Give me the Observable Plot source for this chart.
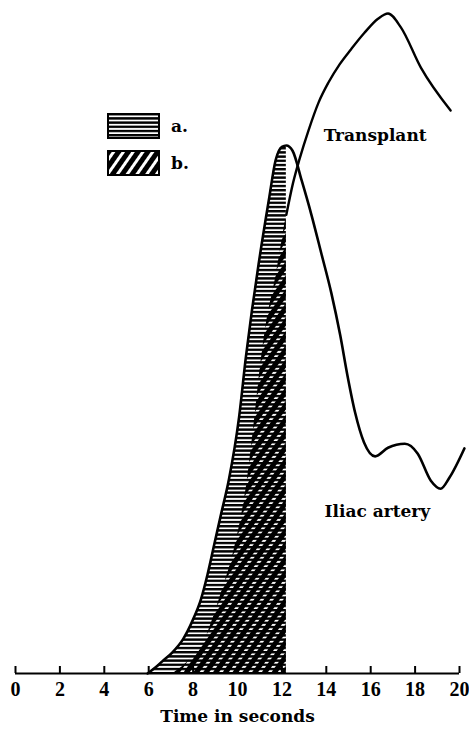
<!DOCTYPE html>
<html>
<head>
<meta charset="utf-8">
<script src="https://cdn.jsdelivr.net/npm/d3@7"></script>
<script src="https://cdn.jsdelivr.net/npm/@observablehq/plot@0.6"></script>
<style>
  html, body { margin: 0; padding: 0; background: #fff; }
  #wrap { position: relative; width: 469px; height: 731px; overflow: hidden; }
  .legend { position: absolute; left: 107px; top: 113px; font-family: "DejaVu Serif", serif; font-weight: bold; font-size: 17px; color: #000; }
  .item { display: flex; align-items: center; height: 26px; margin-bottom: 11px; }
  .item svg { display: block; margin-right: 11px; }
</style>
</head>
<body>
<svg width="0" height="0" style="position:absolute">
  <defs>
    <pattern id="hatchA" patternUnits="userSpaceOnUse" width="8" height="4.2">
      <rect width="8" height="4.2" fill="#fff"/>
      <rect width="8" height="2.4" fill="#000"/>
    </pattern>
    <pattern id="hatchB" patternUnits="userSpaceOnUse" width="8" height="8" patternTransform="rotate(35)">
      <rect width="5" height="8" fill="#000"/>
    </pattern>
  </defs>
</svg>
<div id="wrap">
  <div id="chart"></div>
  <div class="legend">
    <div class="item">
      <svg width="53" height="26"><rect x="1" y="1" width="51" height="24" fill="url(#hatchA)" stroke="#000" stroke-width="2"/></svg>
      <span>a.</span>
    </div>
    <div class="item">
      <svg width="53" height="26"><rect x="1" y="1" width="51" height="24" fill="#fff"/><rect x="1" y="1" width="51" height="24" fill="url(#hatchB)" stroke="#000" stroke-width="2"/></svg>
      <span>b.</span>
    </div>
  </div>
</div>
<script>
// ---- data (time in seconds, relative height 0–100) ----
const iliacTime  = [5.95, 6.3, 6.6, 7.07, 7.55, 8.0, 8.35, 8.65, 8.95, 9.25, 9.62, 10.07, 10.38, 10.65, 10.95, 11.41, 11.72, 12.0, 12.2, 12.48, 12.89, 13.33, 13.78, 14.23, 14.63, 14.95, 15.3, 15.7, 16.2, 16.78, 17.54, 18.12, 18.71, 19.15, 19.55, 20.22];
const iliacValue = [0, 0.9, 1.8, 3.2, 5.2, 8.2, 11.2, 15, 19.5, 24, 29.5, 38.8, 48, 55, 62, 71.7, 77.8, 79.8, 80, 79.2, 74.7, 69.5, 63.6, 57.6, 51.2, 45.2, 39.5, 35, 32.9, 34.2, 34.8, 33.3, 29.2, 28, 29.7, 34.1];

const transplantTime  = [7.07, 7.5, 7.83, 8.41, 8.86, 9.26, 9.84, 10.42, 10.78, 11.05, 11.3, 11.72, 12.0, 12.2, 12.5, 12.8, 13.2, 13.65, 14.09, 14.6, 15.12, 15.7, 16.33, 16.78, 17.36, 18.26, 19.6];
const transplantValue = [0, 1, 2, 4.2, 8, 12.1, 18.6, 28.8, 38.8, 47, 53, 60, 65.5, 69.5, 74.3, 78, 82.3, 86.5, 89.5, 92.3, 94.6, 97, 99.2, 100, 97.9, 91.8, 85.3];

const fillEnd = 12.2;               // hatched areas run up to ~12 s
const xTicks = [0, 2, 4, 6, 8, 10, 12, 14, 16, 18, 20];
const xLabel = "Time in seconds";
const curveLabels = [
  {t: 16.2, v: 81.5, text: "Transplant"},
  {t: 16.3, v: 24.5, text: "Iliac artery"}
];

const iliac = iliacTime.map((t, i) => ({t, v: iliacValue[i]}));
const transplant = transplantTime.map((t, i) => ({t, v: transplantValue[i]}));

const font = {fontFamily: "DejaVu Serif", fontWeight: "bold", fontSize: 17};
const tickFont = {fontFamily: "Liberation Serif", fontWeight: "bold", fontSize: 20};

const chart = Plot.plot({
  width: 469,
  height: 731,
  marginLeft: 15,
  marginRight: 10,
  marginTop: 13,
  marginBottom: 58,
  x: {domain: [0, 20]},
  y: {domain: [0, 100], axis: null},
  style: {background: "#fff", color: "#000"},
  marks: [
    Plot.areaY(iliac.filter(d => d.t <= fillEnd), {x: "t", y: "v", fill: "url(#hatchA)", curve: "monotone-x"}),
    Plot.areaY(transplant.filter(d => d.t <= fillEnd), {x: "t", y: "v", fill: "url(#hatchB)", curve: "monotone-x"}),
    Plot.line(iliac, {x: "t", y: "v", stroke: "#000", strokeWidth: 2.6, curve: "monotone-x"}),
    Plot.line(transplant.filter(d => d.t >= fillEnd), {x: "t", y: "v", stroke: "#000", strokeWidth: 2.4, curve: "monotone-x"}),
    Plot.ruleY([0], {stroke: "#000", strokeWidth: 2}),
    Plot.axisX(xTicks, {tickSize: -7, tickPadding: 15, strokeWidth: 2, label: null, ...tickFont}),
    Plot.text([xLabel], {frameAnchor: "bottom", dy: 48, ...font}),
    Plot.text(curveLabels, {x: "t", y: "v", text: "text", ...font})
  ]
});
document.getElementById("chart").appendChild(chart);
</script>
</body>
</html>
